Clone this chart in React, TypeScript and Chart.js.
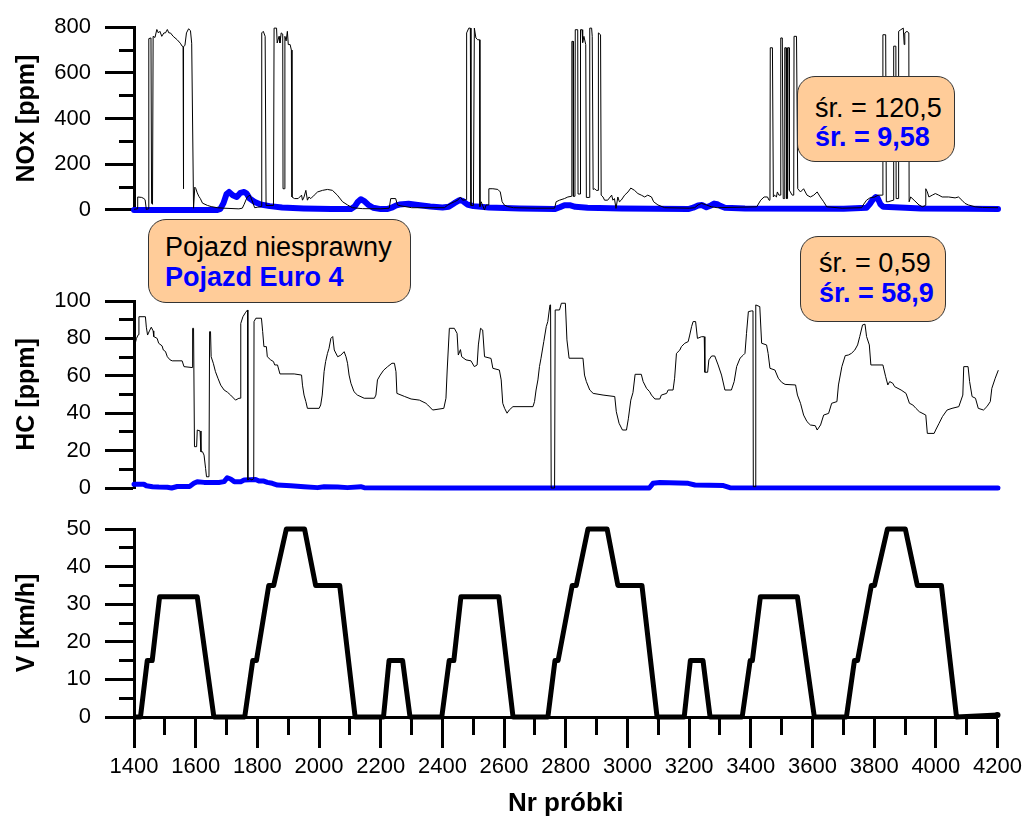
import React, { useEffect, useRef } from 'react';
import { Chart, registerables } from 'chart.js';

Chart.register(...registerables);

const FONT = "'Liberation Sans', Arial, Helvetica, sans-serif";

// ---------- DATA ----------
const X_MIN = 1400;
const X_MAX = 4200;

// NOx [ppm] – faulty vehicle (black)
const noxFaulty: [number, number][] = [
  [1400, 3], [1410, 5], [1412, 57], [1425, 55], [1432, 50], [1436, 45], [1440, 2], [1446, 5],
  [1448, 750], [1455, 753], [1457, 30], [1460, 25], [1462, 760], [1468, 755], [1474, 790], [1479, 775],
  [1484, 782], [1490, 760], [1497, 775], [1502, 775], [1508, 790], [1513, 775], [1518, 775], [1527, 760],
  [1540, 745], [1550, 730], [1556, 717], [1559, 715], [1560, 93], [1561, 715], [1565, 720], [1570, 775],
  [1577, 793], [1583, 785], [1587, 730], [1593, 8], [1597, 100], [1600, 95], [1605, 75], [1610, 60],
  [1615, 50], [1622, 30], [1638, 20], [1650, 15], [1670, 10], [1690, 8], [1740, 5], [1751, 8],
  [1757, 25], [1767, 57], [1776, 65], [1783, 40], [1791, 10], [1800, 12], [1812, 15], [1814, 775],
  [1819, 782], [1825, 760], [1828, 20], [1852, 20], [1854, 796], [1862, 796], [1864, 731], [1870, 760],
  [1873, 731], [1877, 775], [1882, 770], [1883, 93], [1888, 93], [1889, 760], [1893, 740], [1897, 782],
  [1900, 724], [1906, 724], [1910, 700], [1912, 57], [1920, 50], [1932, 50], [1943, 65], [1946, 43],
  [1951, 57], [1957, 86], [1962, 43], [1967, 57], [1973, 50], [1984, 65], [1995, 79], [2011, 86],
  [2027, 90], [2043, 86], [2059, 65], [2076, 36], [2092, 22], [2108, 10], [2140, 6], [2200, 5],
  [2227, 8], [2232, 50], [2248, 50], [2254, 22], [2265, 18], [2300, 10], [2406, 10], [2417, 22],
  [2427, 29], [2438, 36], [2449, 43], [2458, 57], [2465, 43], [2477, 45], [2478, 775], [2485, 796],
  [2490, 796], [2492, 20], [2500, 20], [2503, 796], [2508, 753], [2514, 745], [2520, 745], [2521, 15],
  [2525, 36], [2536, 0], [2541, 22], [2549, 22], [2550, 93], [2563, 93], [2579, 90], [2587, 79],
  [2593, 36], [2600, 22], [2611, 15], [2630, 10], [2700, 8], [2763, 8], [2768, 36], [2779, 43],
  [2795, 50], [2806, 57], [2818, 60], [2819, 738], [2823, 738], [2824, 60], [2829, 60], [2830, 789],
  [2838, 789], [2839, 70], [2846, 70], [2847, 789], [2852, 789], [2854, 733], [2858, 760], [2864, 724],
  [2866, 55], [2876, 55], [2877, 796], [2883, 796], [2885, 760], [2887, 760], [2888, 90], [2893, 93],
  [2898, 86], [2904, 86], [2905, 775], [2912, 767], [2914, 65], [2920, 57], [2925, 43], [2935, 43],
  [2948, 65], [2952, 43], [2957, 50], [2962, 7], [2968, 57], [2973, 36], [2979, 43], [2990, 65],
  [3001, 79], [3010, 96], [3022, 86], [3033, 72], [3044, 65], [3055, 57], [3065, 65], [3077, 57],
  [3084, 36], [3098, 22], [3120, 10], [3200, 8], [3217, 10], [3228, 22], [3239, 29], [3255, 22],
  [3271, 14], [3290, 10], [3418, 14], [3431, 43], [3442, 57], [3453, 57], [3458, 43], [3461, 45],
  [3462, 710], [3469, 710], [3472, 57], [3476, 65], [3482, 57], [3485, 79], [3490, 65], [3495, 65],
  [3496, 753], [3501, 753], [3504, 50], [3508, 50], [3509, 710], [3513, 710], [3515, 50], [3517, 50],
  [3518, 710], [3523, 710], [3524, 86], [3533, 65], [3538, 65], [3539, 760], [3547, 760], [3551, 93],
  [3560, 79], [3570, 93], [3581, 65], [3592, 57], [3603, 65], [3614, 79], [3624, 57], [3635, 36],
  [3645, 14], [3695, 8], [3758, 10], [3763, 22], [3774, 43], [3785, 53], [3801, 57], [3811, 65],
  [3826, 65], [3827, 767], [3836, 767], [3838, 36], [3844, 36], [3861, 43], [3862, 717], [3869, 717],
  [3870, 50], [3877, 50], [3878, 782], [3885, 789], [3893, 796], [3896, 724], [3898, 775], [3905, 782],
  [3911, 775], [3912, 36], [3917, 57], [3928, 43], [3944, 22], [3955, 14], [3965, 20], [3966, 93],
  [3971, 79], [3976, 57], [3987, 65], [3997, 72], [4008, 65], [4019, 57], [4040, 57], [4061, 53],
  [4072, 57], [4083, 43], [4093, 29], [4104, 22], [4126, 14], [4150, 11], [4200, 10],
];

// NOx [ppm] – Euro 4 vehicle (blue)
const noxEuro4: [number, number][] = [
  [1400, 0], [1670, 0], [1680, 5], [1690, 30], [1700, 70], [1708, 79], [1720, 65], [1733, 57],
  [1745, 75], [1757, 79], [1765, 72], [1775, 50], [1790, 36], [1810, 24], [1840, 17], [1880, 11],
  [1950, 7], [2040, 4], [2103, 4], [2115, 15], [2125, 35], [2135, 47], [2145, 40], [2160, 22],
  [2175, 10], [2200, 4], [2220, 4], [2235, 10], [2250, 20], [2260, 24], [2290, 27], [2320, 22],
  [2360, 15], [2400, 11], [2420, 14], [2438, 30], [2455, 43], [2465, 40], [2480, 24], [2500, 17],
  [2550, 11], [2650, 7], [2763, 4], [2780, 12], [2795, 21], [2812, 21], [2830, 14], [2870, 10],
  [2980, 7], [3196, 4], [3212, 10], [3228, 20], [3240, 22], [3255, 12], [3270, 20], [3280, 28],
  [3290, 25], [3300, 18], [3315, 10], [3380, 7], [3700, 6], [3774, 10], [3784, 25], [3794, 45],
  [3804, 57], [3810, 52], [3819, 25], [3828, 14], [3900, 10], [3950, 7], [4100, 5], [4200, 4],
];

// HC [ppm] – faulty vehicle (black)
const hcFaulty: [number, number][] = [
  [1400, 75.6], [1402, 76], [1408, 80], [1414, 82], [1416, 91.6], [1437, 91.6], [1440, 86], [1444, 81.8],
  [1450, 84], [1456, 86], [1462, 84], [1464, 81], [1475, 80], [1480, 77.4], [1491, 76], [1495, 73.8],
  [1502, 73], [1508, 70.2], [1517, 68.5], [1524, 68], [1556, 68], [1562, 64.9], [1589, 64.4], [1590, 85.4],
  [1593, 85.4], [1596, 22.1], [1603, 22.1], [1605, 31], [1614, 30.5], [1617, 19.4], [1622, 19.4], [1627, 17.6],
  [1632, 10.5], [1635, 6], [1643, 6], [1645, 83.6], [1648, 83.6], [1650, 70.2], [1657, 66.7], [1664, 62.2],
  [1672, 58.7], [1681, 55], [1692, 52.4], [1703, 51.2], [1713, 49.7], [1729, 47], [1740, 48], [1745, 48],
  [1746, 88], [1753, 91.6], [1762, 94], [1768, 95.2], [1769, 4.3], [1775, 5], [1782, 4.3], [1788, 5],
  [1789, 89], [1795, 90.8], [1813, 90.8], [1817, 83.6], [1821, 75.6], [1829, 75.6], [1832, 70.2], [1843, 68.5],
  [1852, 67.6], [1856, 65.8], [1865, 65.8], [1873, 61], [1919, 61], [1943, 60.4], [1946, 55], [1951, 49.7],
  [1957, 46.2], [1962, 42.6], [2000, 42.6], [2005, 44.4], [2010, 49.7], [2016, 62.2], [2021, 67.6], [2027, 72],
  [2032, 74.7], [2038, 80], [2044, 81], [2049, 73.8], [2060, 70.2], [2070, 71], [2081, 72.9], [2087, 70.2],
  [2092, 66.7], [2097, 60.4], [2103, 56], [2113, 51.5], [2124, 49.7], [2146, 48], [2179, 48], [2184, 49.7],
  [2189, 57.8], [2198, 60.4], [2209, 63], [2222, 64.9], [2236, 66.7], [2244, 66.7], [2249, 62.2], [2252, 50.6],
  [2276, 49], [2298, 47.6], [2325, 47], [2346, 45.3], [2352, 44.4], [2368, 41.7], [2404, 42.6], [2411, 48],
  [2415, 63.1], [2422, 85.4], [2438, 85.4], [2447, 82.7], [2451, 71.1], [2458, 74], [2462, 70.2], [2476, 68.5],
  [2492, 68], [2503, 64.9], [2512, 65.8], [2516, 76.5], [2523, 85.4], [2530, 84.5], [2536, 70.2], [2557, 69.3],
  [2563, 64], [2584, 63.1], [2590, 57.8], [2595, 45.3], [2601, 42.6], [2609, 40], [2616, 41.7], [2628, 43.5],
  [2693, 43.5], [2698, 46.2], [2703, 52.4], [2709, 57.8], [2714, 64.9], [2719, 69.4], [2728, 78.3], [2736, 86.3],
  [2741, 89], [2748, 97.9], [2750, 97.9], [2752, 0], [2763, 0], [2765, 95.2], [2779, 95.2], [2785, 98.8],
  [2798, 98.8], [2803, 79.2], [2810, 69.4], [2855, 69.4], [2860, 60.4], [2866, 56.9], [2877, 52.4], [2888, 50.6],
  [2920, 49.7], [2958, 48.9], [2963, 40.8], [2972, 34.6], [2983, 31], [2996, 31], [3002, 37], [3010, 47],
  [3017, 51], [3024, 60.8], [3044, 60.8], [3050, 56.9], [3061, 53.3], [3071, 51.5], [3077, 49.7], [3088, 47.6],
  [3104, 47.6], [3109, 49.7], [3126, 50.6], [3131, 52.4], [3147, 52.4], [3152, 58.7], [3158, 72], [3169, 73.8],
  [3174, 75.6], [3185, 77.4], [3196, 78.3], [3201, 81.8], [3207, 86.3], [3212, 89], [3220, 89], [3226, 80],
  [3239, 80.9], [3248, 80.9], [3250, 61.9], [3259, 61.9], [3263, 68.5], [3272, 70.6], [3282, 70.6], [3293, 65.8],
  [3304, 60.4], [3315, 52.4], [3336, 52.4], [3345, 56.9], [3353, 64.9], [3364, 69.4], [3374, 71], [3380, 72],
  [3385, 82.7], [3391, 94.3], [3401, 94.7], [3406, 94.7], [3407, 0.7], [3413, 0.7], [3415, 97.9], [3428, 97],
  [3434, 77.4], [3450, 76.5], [3455, 72], [3461, 64], [3477, 63.1], [3488, 58.7], [3499, 56.5], [3510, 55.4],
  [3544, 55.1], [3550, 49.7], [3560, 45.3], [3570, 39], [3581, 35.5], [3592, 33.7], [3608, 33.3], [3614, 31],
  [3625, 33.7], [3635, 39], [3651, 39.9], [3661, 45.3], [3678, 46.2], [3683, 55.1], [3694, 64.9], [3705, 70.8],
  [3715, 71.1], [3725, 72], [3736, 73.8], [3745, 76.5], [3752, 81], [3761, 87.2], [3769, 87.6], [3774, 81],
  [3783, 76.5], [3788, 65.8], [3827, 65.8], [3836, 59.5], [3843, 55.1], [3849, 56.9], [3859, 56], [3865, 54.2],
  [3886, 52.4], [3902, 50.6], [3913, 45.3], [3924, 44.4], [3934, 42.6], [3945, 40.8], [3966, 39], [3971, 29.2],
  [3993, 29.2], [3998, 31], [4009, 34.6], [4020, 38.2], [4035, 41.7], [4051, 42.6], [4073, 43.5], [4086, 49.7],
  [4089, 64.9], [4103, 64.9], [4108, 56.9], [4116, 48.9], [4127, 48], [4136, 42.6], [4153, 41.7], [4164, 43.5],
  [4175, 46.2], [4180, 53.3], [4191, 58.7], [4201, 63],
];

// HC [ppm] – Euro 4 vehicle (blue)
const hcEuro4: [number, number][] = [
  [1400, 2], [1432, 2], [1440, 1.2], [1460, 0.7], [1480, 0.5], [1508, 0.4], [1522, 0], [1540, 0.8],
  [1580, 0.8], [1594, 2.5], [1605, 3.4], [1627, 3], [1675, 2.9], [1692, 3.4], [1702, 5.5], [1713, 4.8],
  [1725, 3.4], [1746, 3.4], [1757, 4.3], [1794, 4.6], [1805, 3.7], [1821, 3.7], [1832, 3], [1848, 2.5],
  [1865, 1.6], [1908, 1.2], [1951, 0.7], [1995, 0.2], [2016, 0.7], [2060, 0.5], [2092, 0.2], [2135, 0.7],
  [2146, 0.2], [2400, 0], [3070, 0], [3082, 2.5], [3104, 2.9], [3196, 2.5], [3218, 1.6], [3310, 1.3],
  [3331, 0.2], [4200, 0],
];

// V [km/h] – driving cycle speed
const vSpeed: [number, number][] = [
  [1400, 0], [1421, 0], [1443, 15], [1459, 15], [1483, 32], [1605, 32], [1659, 0], [1759, 0],
  [1785, 15], [1797, 15], [1837, 35], [1853, 35], [1894, 50], [1953, 50], [1989, 35], [2067, 35],
  [2117, 0], [2209, 0], [2227, 15], [2271, 15], [2295, 0], [2398, 0], [2422, 15], [2437, 15],
  [2460, 32], [2583, 32], [2629, 0], [2742, 0], [2765, 15], [2775, 15], [2821, 35], [2834, 35],
  [2872, 50], [2934, 50], [2969, 35], [3047, 35], [3096, 0], [3184, 0], [3204, 15], [3245, 15],
  [3268, 0], [3372, 0], [3398, 15], [3405, 15], [3431, 32], [3551, 32], [3606, 0], [3710, 0],
  [3736, 15], [3746, 15], [3791, 35], [3801, 35], [3843, 50], [3901, 50], [3940, 35], [4018, 35],
  [4067, 0], [4200, 0.5],
];

const xTitle = 'Nr próbki';
const noxTitle = 'NOx [ppm]';
const hcTitle = 'HC [ppm]';
const vTitle = 'V [km/h]';
const labelFaulty = 'Pojazd niesprawny';
const labelEuro4 = 'Pojazd Euro 4';
const noxMeanFaulty = 'śr. = 120,5';
const noxMeanEuro4 = 'śr. = 9,58';
const hcMeanFaulty = 'śr. = 0,59';
const hcMeanEuro4 = 'śr. = 58,9';

// ---------- CHART CONFIG ----------
const W = 1028;
const H = 819;
const AXIS_W = 134;
const RIGHT_PAD = 30;

const toXY = (arr: [number, number][]) => arr.map(([x, y]) => ({ x, y }));

function yScale(min: number, max: number, step: number, labelStep: number, title: string) {
  return {
    type: 'linear',
    min,
    max,
    afterFit: (s: any) => {
      s.width = AXIS_W;
    },
    border: { display: true, width: 3, color: '#000' },
    grid: {
      display: true,
      drawOnChartArea: false,
      drawTicks: true,
      tickLength: 29,
      tickWidth: 3,
      tickColor: '#000',
      tickBorderDash: (c: any) =>
        c.tick && Math.round(c.tick.value) % labelStep !== 0 ? [0, 14, 15, 1000] : [],
    },
    ticks: {
      stepSize: step,
      autoSkip: false,
      padding: 14,
      color: '#000',
      font: { family: FONT, size: 22, lineHeight: 1.2 },
      callback: (v: any) => (Math.round(v) % labelStep === 0 ? String(v) : ''),
    },
    title: {
      display: true,
      text: title,
      color: '#000',
      font: { family: FONT, size: 25, weight: 'bold', lineHeight: 1.2 },
      padding: { top: 12, bottom: 0 },
    },
  };
}

function xScale(show: boolean) {
  return {
    type: 'linear',
    min: X_MIN,
    max: X_MAX,
    display: show,
    afterFit: (s: any) => {
      s.height = show ? 102 : 0;
    },
    border: { display: true, width: 3, color: '#000' },
    grid: {
      display: true,
      drawOnChartArea: false,
      drawTicks: true,
      tickLength: 31,
      tickWidth: 3,
      tickColor: '#000',
      tickBorderDash: (c: any) =>
        c.tick && Math.round(c.tick.value) % 200 !== 0 ? [16, 1000] : [],
    },
    ticks: {
      stepSize: 100,
      autoSkip: false,
      maxRotation: 0,
      minRotation: 0,
      padding: 6,
      color: '#000',
      font: { family: FONT, size: 22, lineHeight: 1.2 },
      callback: (v: any) => (Math.round(v) % 200 === 0 ? String(v) : ''),
    },
    title: {
      display: true,
      text: xTitle,
      color: '#000',
      font: { family: FONT, size: 26, weight: 'bold', lineHeight: 1.2 },
      padding: { top: 0, bottom: 0 },
    },
  };
}

function baseOptions(top: number, bottom: number, showX: boolean, y: any) {
  return {
    responsive: false,
    maintainAspectRatio: false,
    animation: false,
    devicePixelRatio: 1,
    events: [],
    layout: { padding: { left: 0, right: RIGHT_PAD, top, bottom } },
    plugins: { legend: { display: false }, tooltip: { enabled: false }, title: { display: false } },
    elements: { point: { radius: 0 }, line: { tension: 0 } },
    scales: { x: xScale(showX), y },
  };
}

function noxConfig(): any {
  return {
    type: 'line',
    data: {
      datasets: [
        { label: labelFaulty, data: toXY(noxFaulty), borderColor: '#000', borderWidth: 1, pointRadius: 0, clip: 8 },
        {
          label: labelEuro4, data: toXY(noxEuro4), borderColor: '#0000ff', borderWidth: 6, pointRadius: 0,
          borderJoinStyle: 'round', borderCapStyle: 'round', clip: 8,
        },
      ],
    },
    options: baseOptions(24, H - 210, false, yScale(0, 800, 100, 200, noxTitle)),
  };
}

function hcConfig(): any {
  return {
    type: 'line',
    data: {
      datasets: [
        { label: labelFaulty, data: toXY(hcFaulty), borderColor: '#000', borderWidth: 1, pointRadius: 0, clip: 8 },
        {
          label: labelEuro4, data: toXY(hcEuro4), borderColor: '#0000ff', borderWidth: 5, pointRadius: 0,
          borderJoinStyle: 'round', borderCapStyle: 'round', clip: 8,
        },
      ],
    },
    options: baseOptions(301, H - 488, false, yScale(0, 100, 10, 20, hcTitle)),
  };
}

function vConfig(): any {
  return {
    type: 'line',
    data: {
      datasets: [
        {
          label: vTitle, data: toXY(vSpeed), borderColor: '#000', borderWidth: 5,
          borderJoinStyle: 'round', clip: 8,
          pointRadius: (c: any) => (c.dataIndex === vSpeed.length - 1 ? 3 : 0),
          pointBackgroundColor: '#000', pointBorderWidth: 0,
        },
      ],
    },
    options: baseOptions(529, 0, true, yScale(0, 50, 5, 10, vTitle)),
  };
}

function Panel({ build }: { build: () => any }) {
  const ref = useRef<HTMLCanvasElement | null>(null);
  useEffect(() => {
    if (!ref.current) return;
    const chart = new Chart(ref.current, build());
    return () => chart.destroy();
  }, []);
  return (
    <canvas
      ref={ref}
      width={W}
      height={H}
      style={{ position: 'absolute', left: 0, top: 0, width: W, height: H }}
    />
  );
}

function Note({
  left, top, width, height, padTop, padLeft, lineH, a, b,
}: {
  left: number; top: number; width: number; height: number; padTop: number; padLeft: number;
  lineH: number; a: string; b: string;
}) {
  return (
    <div
      style={{
        position: 'absolute', left, top, width, height, boxSizing: 'border-box',
        background: '#ffcc99', border: '1px solid #333', borderRadius: 18,
        paddingTop: padTop, paddingLeft: padLeft, fontFamily: FONT, fontSize: 27,
        lineHeight: `${lineH}px`, whiteSpace: 'nowrap', zIndex: 5,
      }}
    >
      <div style={{ color: '#000' }}>{a}</div>
      <div style={{ color: '#0000ff', fontWeight: 'bold' }}>{b}</div>
    </div>
  );
}

export default function App() {
  return (
    <div style={{ position: 'absolute', left: 0, top: 0, width: W, height: H, background: '#fff', overflow: 'hidden' }}>
      <Panel build={noxConfig} />
      <Panel build={hcConfig} />
      <Panel build={vConfig} />
      <Note left={148} top={219} width={263} height={84} padTop={12} padLeft={16} lineH={30} a={labelFaulty} b={labelEuro4} />
      <Note left={797} top={76} width={158} height={86} padTop={17} padLeft={17} lineH={29} a={noxMeanFaulty} b={noxMeanEuro4} />
      <Note left={800} top={236} width={146} height={86} padTop={11} padLeft={18} lineH={30} a={hcMeanFaulty} b={hcMeanEuro4} />
    </div>
  );
}
